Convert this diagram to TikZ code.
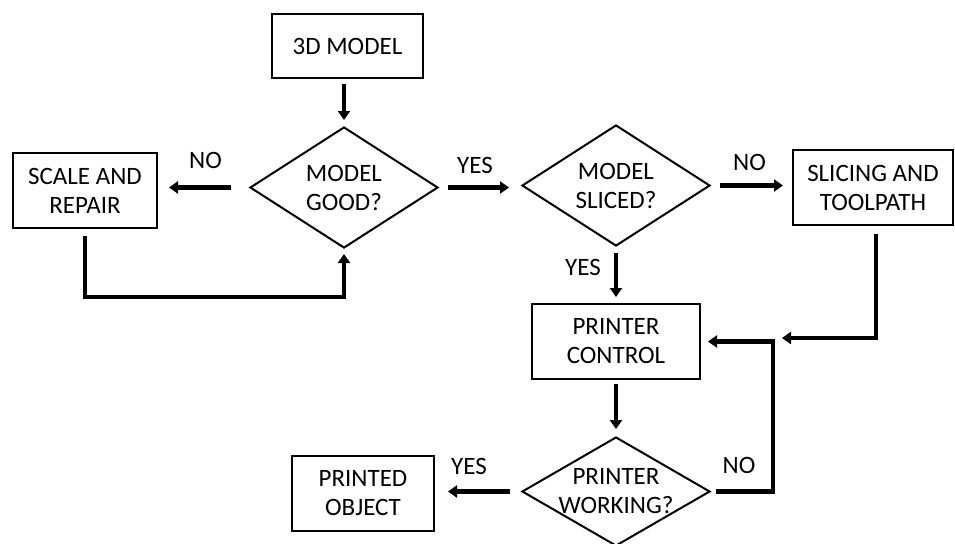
\documentclass[tikz,border=0pt]{standalone}
\usepackage{fontspec}
\setmainfont{Carlito}
\usetikzlibrary{arrows.meta,shapes.geometric}

\begin{document}
\begin{tikzpicture}[x=0.5pt,y=-0.5pt,
  txt/.style={font=\fontsize{12.5}{14.5}\selectfont},
  box/.style={txt, draw, line width=1pt, align=center, inner sep=0pt},
  decision/.style={draw, diamond, line width=1pt, inner sep=0pt,
    minimum width=94pt, minimum height=60.5pt},
  dtext/.style={txt, align=center},
  flow/.style={line width=2.2pt, -{Triangle[length=4.5pt,width=6pt]}},
  lbl/.style={txt, inner sep=0pt},
]
\useasboundingbox (0,0) rectangle (955,543);

% process boxes
\node[box, minimum width=75.5pt, minimum height=32pt] (model) at (347.5,46) {3D MODEL};
\node[box, minimum width=72pt, minimum height=37.5pt] (repair) at (85,190.5) {SCALE AND\\REPAIR};
\node[box, minimum width=80pt, minimum height=37.5pt] (slice) at (873,187.5) {SLICING AND\\TOOLPATH};
\node[box, minimum width=84pt, minimum height=37.5pt] (control) at (616,341.5) {PRINTER\\CONTROL};
\node[box, minimum width=71pt, minimum height=37.5pt] (object) at (363,493.5) {PRINTED\\OBJECT};

% decisions
\node[decision, label={[dtext]center:MODEL\\GOOD?}] (good) at (344,187.5) {};
\node[decision, label={[dtext]center:MODEL\\SLICED?}] (sliced) at (616,185.5) {};
\node[decision, minimum height=54.5pt, label={[dtext]center:PRINTER\\WORKING?}] (working) at (616,491.5) {};

% free end of the toolpath return line
\coordinate (join) at (782,338);

% connectors
\draw[flow, shorten <=2.5pt, shorten >=3pt] (model.south -| good.north) -- (good.north);
\draw[flow, shorten <=9pt, shorten >=5.5pt] (good.west) -- node[lbl, yshift=13.5pt, xshift=1pt]{NO} (good.west -| repair.east);
\draw[flow, shorten <=3.5pt, shorten >=2.5pt] (repair.south) -- ++(0,68) -| (good.south);
\draw[flow, shorten <=4.5pt, shorten >=6pt] (good.east) -- node[lbl, yshift=11pt, xshift=-2.5pt]{YES} (good.east -| sliced.west);
\draw[flow, shorten <=4.5pt, shorten >=4.5pt] (sliced.east) -- node[lbl, yshift=11.5pt, xshift=-1pt]{NO} (sliced.east -| slice.west);
\draw[flow, shorten <=3pt, shorten >=3pt] (sliced.south) -- node[lbl, xshift=-16.5pt, yshift=4pt]{YES} (control.north);
\draw[line width=2.2pt, shorten <=4pt, -{Triangle[length=4.5pt,width=6pt]}] (slice.south) ++(3,0) |- (join);
\draw[flow, shorten <=2pt, shorten >=3.5pt] (control.south) -- (working.north);
\draw[flow, shorten <=2.5pt, shorten >=3.5pt] (working.east) -- node[lbl, yshift=13pt, xshift=-1.5pt]{NO} ++(62,0) |- (control.east);
\draw[flow, shorten <=5.5pt, shorten >=6.5pt] (working.west) -- node[lbl, yshift=12.5pt, xshift=-4.5pt]{YES} (working.west -| object.east);
\end{tikzpicture}
\end{document}
